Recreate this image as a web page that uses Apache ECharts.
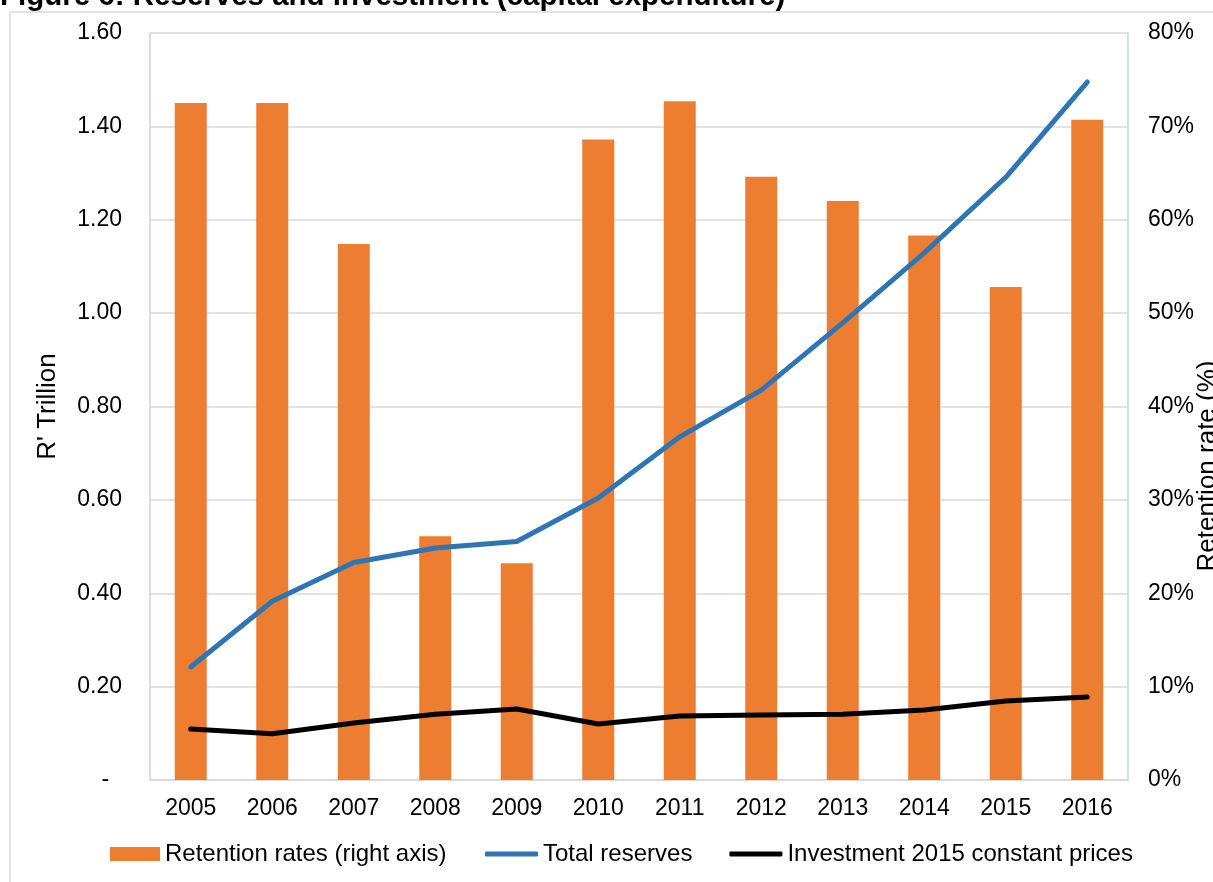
<!DOCTYPE html>
<html>
<head>
<meta charset="utf-8">
<script src="https://cdn.jsdelivr.net/npm/echarts@6/dist/echarts.min.js"></script>
<style>
  html, body { margin: 0; padding: 0; background: #fff; }
  #chart { width: 1213px; height: 882px; }
</style>
</head>
<body>
<div id="chart"></div>
<script>
const years = ['2005', '2006', '2007', '2008', '2009', '2010', '2011', '2012', '2013', '2014', '2015', '2016']
// retention rate, % (right axis)
const retention = [72.5, 72.5, 57.4, 26.1, 23.2, 68.6, 72.7, 64.6, 62.0, 58.3, 52.8, 70.7]
// R' trillion (left axis)
const totalReserves = [0.242, 0.383, 0.466, 0.497, 0.511, 0.604, 0.735, 0.835, 0.979, 1.129, 1.291, 1.495]
const investment = [0.109, 0.099, 0.122, 0.141, 0.152, 0.120, 0.137, 0.139, 0.141, 0.150, 0.169, 0.178]
const leftTicks = { min: 0, max: 1.6, interval: 0.2 }
const rightTicks = { min: 0, max: 80, interval: 10 }

const font = '"Liberation Sans", Arial, sans-serif'
const myChart = echarts.init(document.getElementById('chart'))

const legendText = { fontSize: 24, color: '#000', fontFamily: font }

const options = {
  backgroundColor: '#fff',
  animation: false,
  textStyle: { fontFamily: font },
  graphic: [
    {
      type: 'rect',
      shape: { x: 10, y: 12, width: 1400, height: 1000 },
      style: { fill: 'none', stroke: '#d9d9d9', lineWidth: 1.5 },
      z: -1
    },
    {
      type: 'text',
      x: 0,
      y: -3,
      style: {
        text: 'Figure 6: Reserves and investment (capital expenditure)',
        font: 'bold 29.5px ' + font,
        fill: '#000',
        align: 'left',
        verticalAlign: 'middle'
      }
    },
    {
      type: 'text',
      x: 1208,
      y: 466,
      rotation: Math.PI / 2,
      style: {
        text: 'Retention rate (%)',
        font: '26px ' + font,
        fill: '#000',
        align: 'center',
        verticalAlign: 'middle'
      }
    }
  ],
  grid: {
    left: 150,
    right: 85,
    top: 33,
    bottom: 102
  },
  legend: [
    {
      left: 110,
      top: 842,
      padding: 0,
      icon: 'rect',
      itemWidth: 50,
      itemHeight: 14,
      textStyle: legendText,
      data: ['Retention rates (right axis)']
    },
    {
      left: 485,
      top: 842,
      padding: 0,
      icon: 'roundRect',
      itemWidth: 53,
      itemHeight: 5,
      itemGap: 37,
      textStyle: legendText,
      data: ['Total reserves', 'Investment 2015 constant prices']
    }
  ],
  xAxis: [
    {
      type: 'category',
      data: years,
      boundaryGap: true,
      axisLine: { lineStyle: { color: '#d9d9d9', width: 2 } },
      axisTick: { show: false },
      axisLabel: { fontSize: 23, color: '#000', margin: 17 }
    }
  ],
  yAxis: [
    {
      type: 'value',
      min: leftTicks.min,
      max: leftTicks.max,
      interval: leftTicks.interval,
      name: "R' Trillion",
      nameLocation: 'middle',
      nameGap: 89,
      nameTextStyle: { fontSize: 26, color: '#000' },
      axisLine: { show: true, lineStyle: { color: '#bdd7ee', width: 1.5 } },
      axisTick: { show: false },
      splitLine: { lineStyle: { color: '#d9d9d9', width: 1.5 } },
      axisLabel: {
        fontSize: 23,
        color: '#000',
        margin: 28,
        formatter: v => (v === 0 ? '-  ' : v.toFixed(2))
      }
    },
    {
      type: 'value',
      min: rightTicks.min,
      max: rightTicks.max,
      interval: rightTicks.interval,
      position: 'right',
      axisLine: { show: true, lineStyle: { color: '#bdd7ee', width: 1.5 } },
      axisTick: { show: false },
      splitLine: { show: false },
      axisLabel: {
        fontSize: 23,
        color: '#000',
        margin: 20,
        formatter: v => v + '%'
      }
    }
  ],
  series: [
    {
      name: 'Retention rates (right axis)',
      type: 'bar',
      yAxisIndex: 1,
      barWidth: 32,
      data: retention,
      itemStyle: { color: '#ed7d31' }
    },
    {
      name: 'Total reserves',
      type: 'line',
      yAxisIndex: 0,
      data: totalReserves,
      symbol: 'none',
      lineStyle: { color: '#2e75b6', width: 5, cap: 'round', join: 'round' },
      itemStyle: { color: '#2e75b6' }
    },
    {
      name: 'Investment 2015 constant prices',
      type: 'line',
      yAxisIndex: 0,
      data: investment,
      symbol: 'none',
      lineStyle: { color: '#000', width: 5, cap: 'round', join: 'round' },
      itemStyle: { color: '#000' }
    }
  ]
}

myChart.setOption(options)
</script>
</body>
</html>
